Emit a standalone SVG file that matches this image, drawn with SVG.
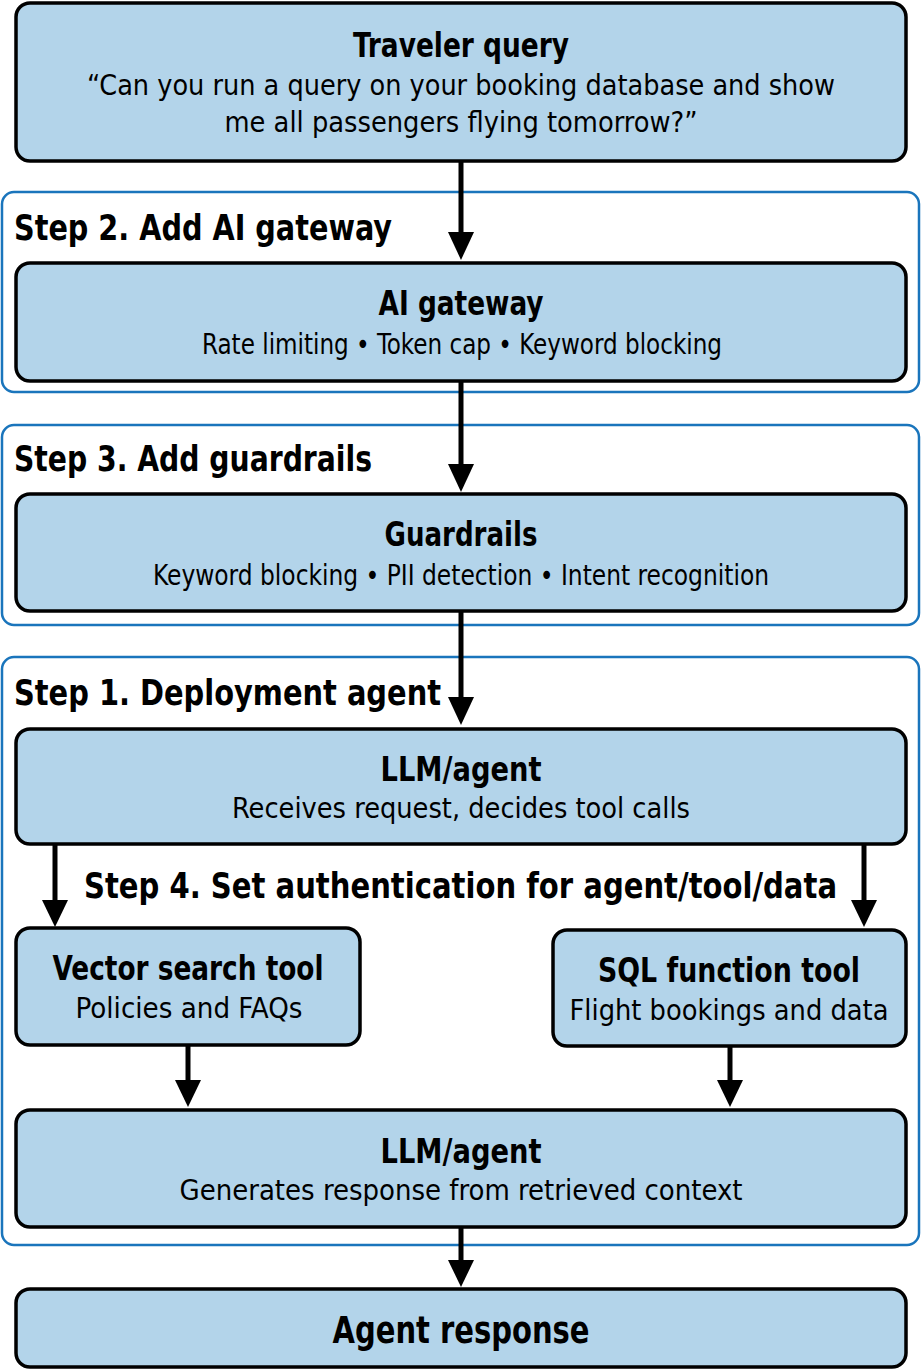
<svg xmlns="http://www.w3.org/2000/svg" width="922" height="1371" viewBox="0 0 922 1371">
<defs>
<style>
.box{fill:#b3d4ea;stroke:#000;stroke-width:3.5}
.cont{fill:none;stroke:#1a75bc;stroke-width:2.5}
text{font-family:"DejaVu Sans Condensed","DejaVu Sans",sans-serif;fill:#000}
.t{font-size:34px;font-weight:bold;text-anchor:middle}
.s{font-size:28px;text-anchor:middle}
.h{font-size:36px;font-weight:bold}
.ln{stroke:#000;stroke-width:5;fill:none}
</style>
<marker id="ah" viewBox="0 0 10 10" refX="10" refY="5" markerWidth="6" markerHeight="6" markerUnits="userSpaceOnUse" orient="auto"><path d="M0,0 L10,5 L0,10 z" fill="#000"/></marker>
</defs>
<rect width="922" height="1371" fill="#fff"/>
<g id="containers">
<rect class="cont" x="2" y="192" width="917" height="200" rx="12"/>
<rect class="cont" x="2" y="425" width="917" height="200" rx="12"/>
<rect class="cont" x="2" y="657" width="917" height="588" rx="12"/>
<text class="h" x="14" y="240" textLength="378" lengthAdjust="spacingAndGlyphs">Step 2. Add AI gateway</text>
<text class="h" x="14" y="471" textLength="358" lengthAdjust="spacingAndGlyphs">Step 3. Add guardrails</text>
<text class="h" x="14" y="705" textLength="427" lengthAdjust="spacingAndGlyphs">Step 1. Deployment  agent</text>
<text class="h" x="84" y="898" textLength="753" lengthAdjust="spacingAndGlyphs">Step 4. Set authentication for agent/tool/data</text>
</g>
<g id="connectors">
<path d="M461,161 V232" class="ln"/><path d="M448,232 L461,260 L474,232z"/>
<path d="M461,381 V464" class="ln"/><path d="M448,464 L461,492 L474,464z"/>
<path d="M461,611 V697" class="ln"/><path d="M448,697 L461,725 L474,697z"/>
<path d="M55,844 V900" class="ln"/><path d="M42,900 L55,927 L68,900z"/>
<path d="M864,844 V900" class="ln"/><path d="M851,900 L864,927 L877,900z"/>
<path d="M188,1045 V1080" class="ln"/><path d="M175,1080 L188,1107 L201,1080z"/>
<path d="M730,1046 V1080" class="ln"/><path d="M717,1080 L730,1107 L743,1080z"/>
<path d="M461,1227 V1260" class="ln"/><path d="M448,1260 L461,1287 L474,1260z"/>
</g>
<g id="traveler"><rect class="box" x="16" y="3" width="890" height="158" rx="14"/>
<text class="t" x="461" y="57" textLength="216" lengthAdjust="spacingAndGlyphs">Traveler query</text>
<text class="s" x="461" y="95" textLength="748" lengthAdjust="spacingAndGlyphs">“Can you run a query on your booking database and show</text>
<text class="s" x="461" y="132" textLength="473" lengthAdjust="spacingAndGlyphs">me all passengers flying tomorrow?”</text></g>
<g id="gateway"><rect class="box" x="16" y="263" width="890" height="118" rx="14"/>
<text class="t" x="461" y="315" textLength="165" lengthAdjust="spacingAndGlyphs">AI gateway</text>
<text class="s" x="462" y="354" textLength="520" lengthAdjust="spacingAndGlyphs">Rate limiting • Token cap • Keyword blocking</text></g>
<g id="guardrails"><rect class="box" x="16" y="494" width="890" height="117" rx="14"/>
<text class="t" x="461" y="546" textLength="153" lengthAdjust="spacingAndGlyphs">Guardrails</text>
<text class="s" x="461" y="585" textLength="616" lengthAdjust="spacingAndGlyphs">Keyword blocking • PII detection • Intent recognition</text></g>
<g id="llm1"><rect class="box" x="16" y="729" width="890" height="115" rx="14"/>
<text class="t" x="461" y="781" textLength="161" lengthAdjust="spacingAndGlyphs">LLM/agent</text>
<text class="s" x="461" y="818" textLength="458" lengthAdjust="spacingAndGlyphs">Receives request, decides tool calls</text></g>
<g id="vector"><rect class="box" x="16" y="928" width="344" height="117" rx="14"/>
<text class="t" x="188" y="980" textLength="271" lengthAdjust="spacingAndGlyphs">Vector search tool</text>
<text class="s" x="189" y="1018" textLength="227" lengthAdjust="spacingAndGlyphs">Policies and FAQs</text></g>
<g id="sql"><rect class="box" x="553" y="930" width="353" height="116" rx="14"/>
<text class="t" x="729" y="982" textLength="262" lengthAdjust="spacingAndGlyphs">SQL function tool</text>
<text class="s" x="729" y="1020" textLength="319" lengthAdjust="spacingAndGlyphs">Flight bookings and data</text></g>
<g id="llm2"><rect class="box" x="16" y="1110" width="890" height="117" rx="14"/>
<text class="t" x="461" y="1163" textLength="161" lengthAdjust="spacingAndGlyphs">LLM/agent</text>
<text class="s" x="461" y="1200" textLength="563" lengthAdjust="spacingAndGlyphs">Generates response from retrieved context</text></g>
<g id="response"><rect class="box" x="16" y="1289" width="890" height="78" rx="14"/>
<text class="t" x="461" y="1343" style="font-size:38px" textLength="257" lengthAdjust="spacingAndGlyphs">Agent response</text></g>
</svg>
